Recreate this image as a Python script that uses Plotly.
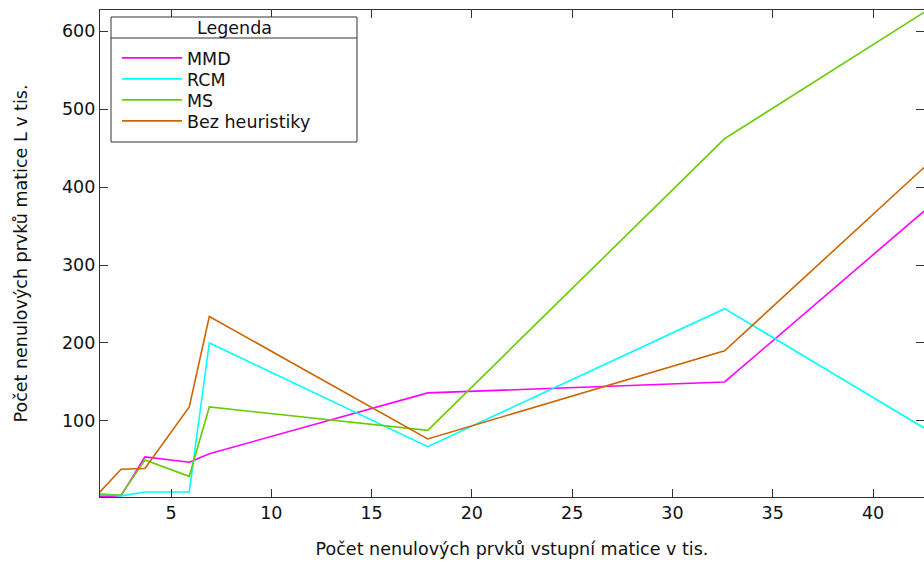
import plotly.graph_objects as go

x_vals = [1.46, 2.51, 3.70, 5.91, 6.91, 17.8, 32.6, 42.54]
mmd = [3, 4, 54, 47, 58, 136, 150, 369]
rcm = [7, 4, 9, 9, 200, 67, 244, 91]
ms = [5, 5, 50, 29, 118, 88, 462, 624]
bez = [9, 38, 39, 118, 234, 77, 190, 425]

series = [("MMD", mmd, "#ff00ff"), ("RCM", rcm, "#00ffff"),
          ("MS", ms, "#66cc00"), ("Bez heuristiky", bez, "#cc6600")]

FONT = "DejaVu Sans"
FS = 17.5
# plot area: x 100..924, y 10..497
PW, PH = 824, 487
def px(xp):
    return (xp - 100) / PW
def py(yp):
    return (497 - yp) / PH

fig = go.Figure()
legend_names = ["legend", "legend2", "legend3", "legend4"]
legend_rows = [58, 79, 100, 121]
for (name, vals, col), lg in zip(series, legend_names):
    fig.add_trace(go.Scatter(x=x_vals, y=vals, name=name, mode="lines",
                             line=dict(color=col, width=1.6), legend=lg))

axis_common = dict(showline=True, linecolor="#333333", linewidth=1.2, mirror="allticks",
                   ticks="inside", ticklen=8, tickcolor="#333333", showgrid=False,
                   zeroline=False, tickfont=dict(family=FONT, size=FS, color="#111"))

legend_style = dict(xanchor="left", yanchor="middle", bgcolor="rgba(0,0,0,0)",
                    borderwidth=0, font=dict(family=FONT, size=FS, color="#111"),
                    itemwidth=60)
legends = {lg: dict(x=px(117), y=py(row), **legend_style)
           for lg, row in zip(legend_names, legend_rows)}

fig.update_layout(
    width=924, height=562,
    margin=dict(l=100, r=0, t=10, b=65),
    plot_bgcolor="white", paper_bgcolor="white",
    font=dict(family=FONT, size=FS, color="#111"),
    showlegend=True,
    xaxis=dict(range=[1.46, 42.54], tickvals=[5, 10, 15, 20, 25, 30, 35, 40],
               title=dict(text="Počet nenulových prvků vstupní matice v tis.", standoff=20,
                          font=dict(family=FONT, size=FS)),
               **axis_common),
    yaxis=dict(range=[2.5, 627], tickvals=[100, 200, 300, 400, 500, 600],
               title=dict(text="Počet nenulových prvků matice L v tis.", standoff=29,
                          font=dict(family=FONT, size=FS)),
               **axis_common),
    shapes=[
        dict(type="rect", xref="paper", yref="paper", x0=px(111), x1=px(357),
             y0=py(142), y1=py(17), line=dict(color="#333333", width=1),
             fillcolor="white", layer="above"),
        dict(type="line", xref="paper", yref="paper", x0=px(111), x1=px(357),
             y0=py(38), y1=py(38), line=dict(color="#333333", width=1), layer="above"),
    ],
    annotations=[dict(text="Legenda", xref="paper", yref="paper", x=px(234), y=py(28),
                      xanchor="center", yanchor="middle", showarrow=False,
                      font=dict(family=FONT, size=FS, color="#111"))],
    **legends,
)
fig.write_html("out.html", config={"displayModeBar": False},
               post_script="document.body.style.margin='0';")
